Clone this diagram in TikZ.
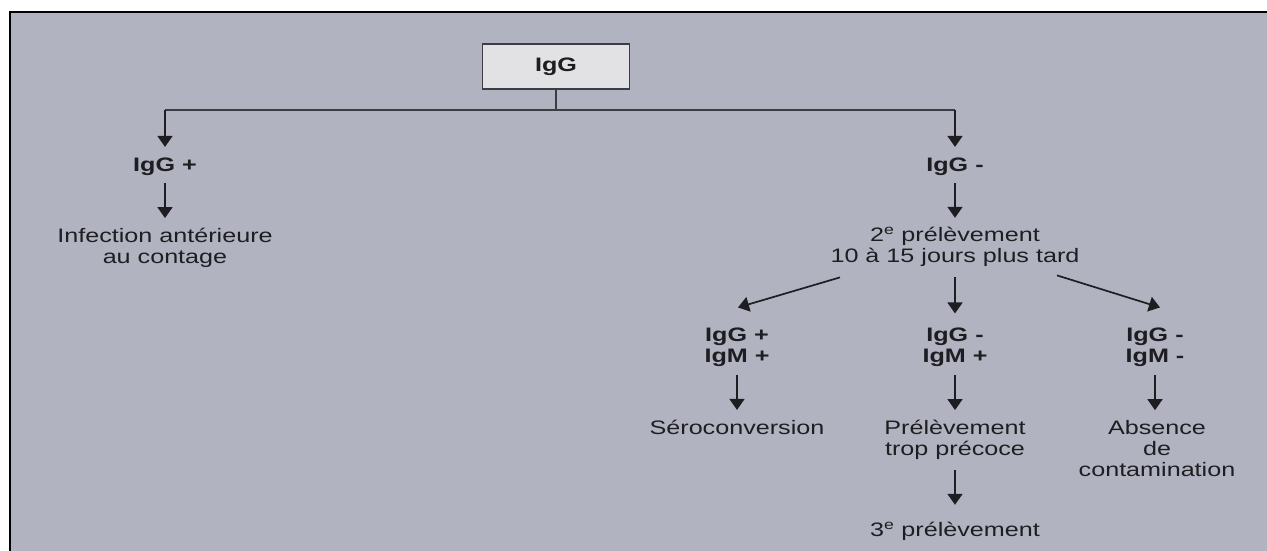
\documentclass[tikz,border=0pt]{standalone}
\usepackage{fontspec}
\setmainfont[FakeStretch=1.29]{Liberation Sans}
\usetikzlibrary{arrows.meta,calc}
\definecolor{panel}{HTML}{B1B3C0}
\definecolor{ink}{HTML}{1E1E22}
\definecolor{boxfill}{HTML}{E2E2E5}
\definecolor{boxline}{HTML}{3C3C42}
\tikzset{
  lbl/.style={inner sep=0pt, align=center, text=ink,
    font=\fontsize{19.5}{21}\selectfont,
    execute at begin node=\strut, execute at end node=\strut},
  blbl/.style={lbl, font=\fontsize{19.5}{21}\selectfont\bfseries},
  arr/.style={draw=ink, line width=1.7pt, -{Triangle[width=15pt,length=11pt]}},
  thin/.style={draw=boxline, line width=1.4pt},
  topbox/.style={draw=boxline, fill=boxfill, line width=1.4pt, minimum width=147pt,
    minimum height=45pt, inner sep=0pt, text=ink,
    font=\fontsize{19.5}{21}\selectfont\bfseries}
}
\begin{document}
\begin{tikzpicture}[x=1pt,y=-1pt]
\useasboundingbox (0,0) rectangle (1267,551);
\fill[white] (0,0) rectangle (1267,551);
\fill[panel] (10,12) rectangle (1267,551);
\draw[black, line width=1.5pt] (10,551) -- (10,12) -- (1267,12);

\node[topbox] (igg) at (556,66.5) {IgG};
\coordinate (hub) at (556,110);
\coordinate (lhub) at (165,110);
\coordinate (rhub) at (955,110);

\node[blbl] (ggp) at (165,167.6) {IgG +};
\node[lbl] (inf) at (165,249.1) {Infection antérieure\\au contage};
\node[blbl] (ggm) at (955,167.6) {IgG -};
\node[lbl] (p2) at (955,248.1) {2\textsuperscript{e} prélèvement\\10 à 15 jours plus tard};

\node[blbl] (ggpmp) at (737,348.1) {IgG +\\IgM +};
\node[blbl] (gmmp) at (955,348.1) {IgG -\\IgM +};
\node[blbl] (gmmm) at (1155,348.1) {IgG -\\IgM -};

\node[lbl] (sero) at (737,430.6) {Séroconversion};
\node[lbl] (ptp) at (955,441.1) {Prélèvement\\trop précoce};
\node[lbl] (abs) at (1157,451.6) {Absence\\de\\contamination};
\node[lbl] (p3) at (955,532.6) {3\textsuperscript{e} prélèvement};

\draw[thin] (igg) -- (hub);
\draw[thin] (lhub) -- (rhub);
\draw[arr, shorten >=10pt] (lhub) -- (ggp);
\draw[arr, shorten >=10pt] (rhub) -- (ggm);
\draw[arr, shorten <=5pt, shorten >=10pt] (ggp) -- (inf);
\draw[arr, shorten <=5pt, shorten >=9pt] (ggm) -- (p2);
\draw[arr, shorten <=8pt, shorten >=14pt] (p2) -- (gmmp);
\draw[arr] ($(p2.south)+(-115,8)$) -- ($(ggpmp.north)+(1,-20)$);
\draw[arr] ($(p2.south)+(102,6)$) -- ($(gmmm.north)+(5,-20)$);
\draw[arr, shorten <=6pt, shorten >=10pt] (ggpmp) -- (sero);
\draw[arr, shorten <=6pt, shorten >=10pt] (gmmp) -- (ptp);
\draw[arr, shorten <=6pt, shorten >=10pt] (gmmm.south) -- (gmmm.south |- abs.north);
\draw[arr, shorten <=8pt, shorten >=17pt] (ptp) -- (p3);
\end{tikzpicture}
\end{document}
